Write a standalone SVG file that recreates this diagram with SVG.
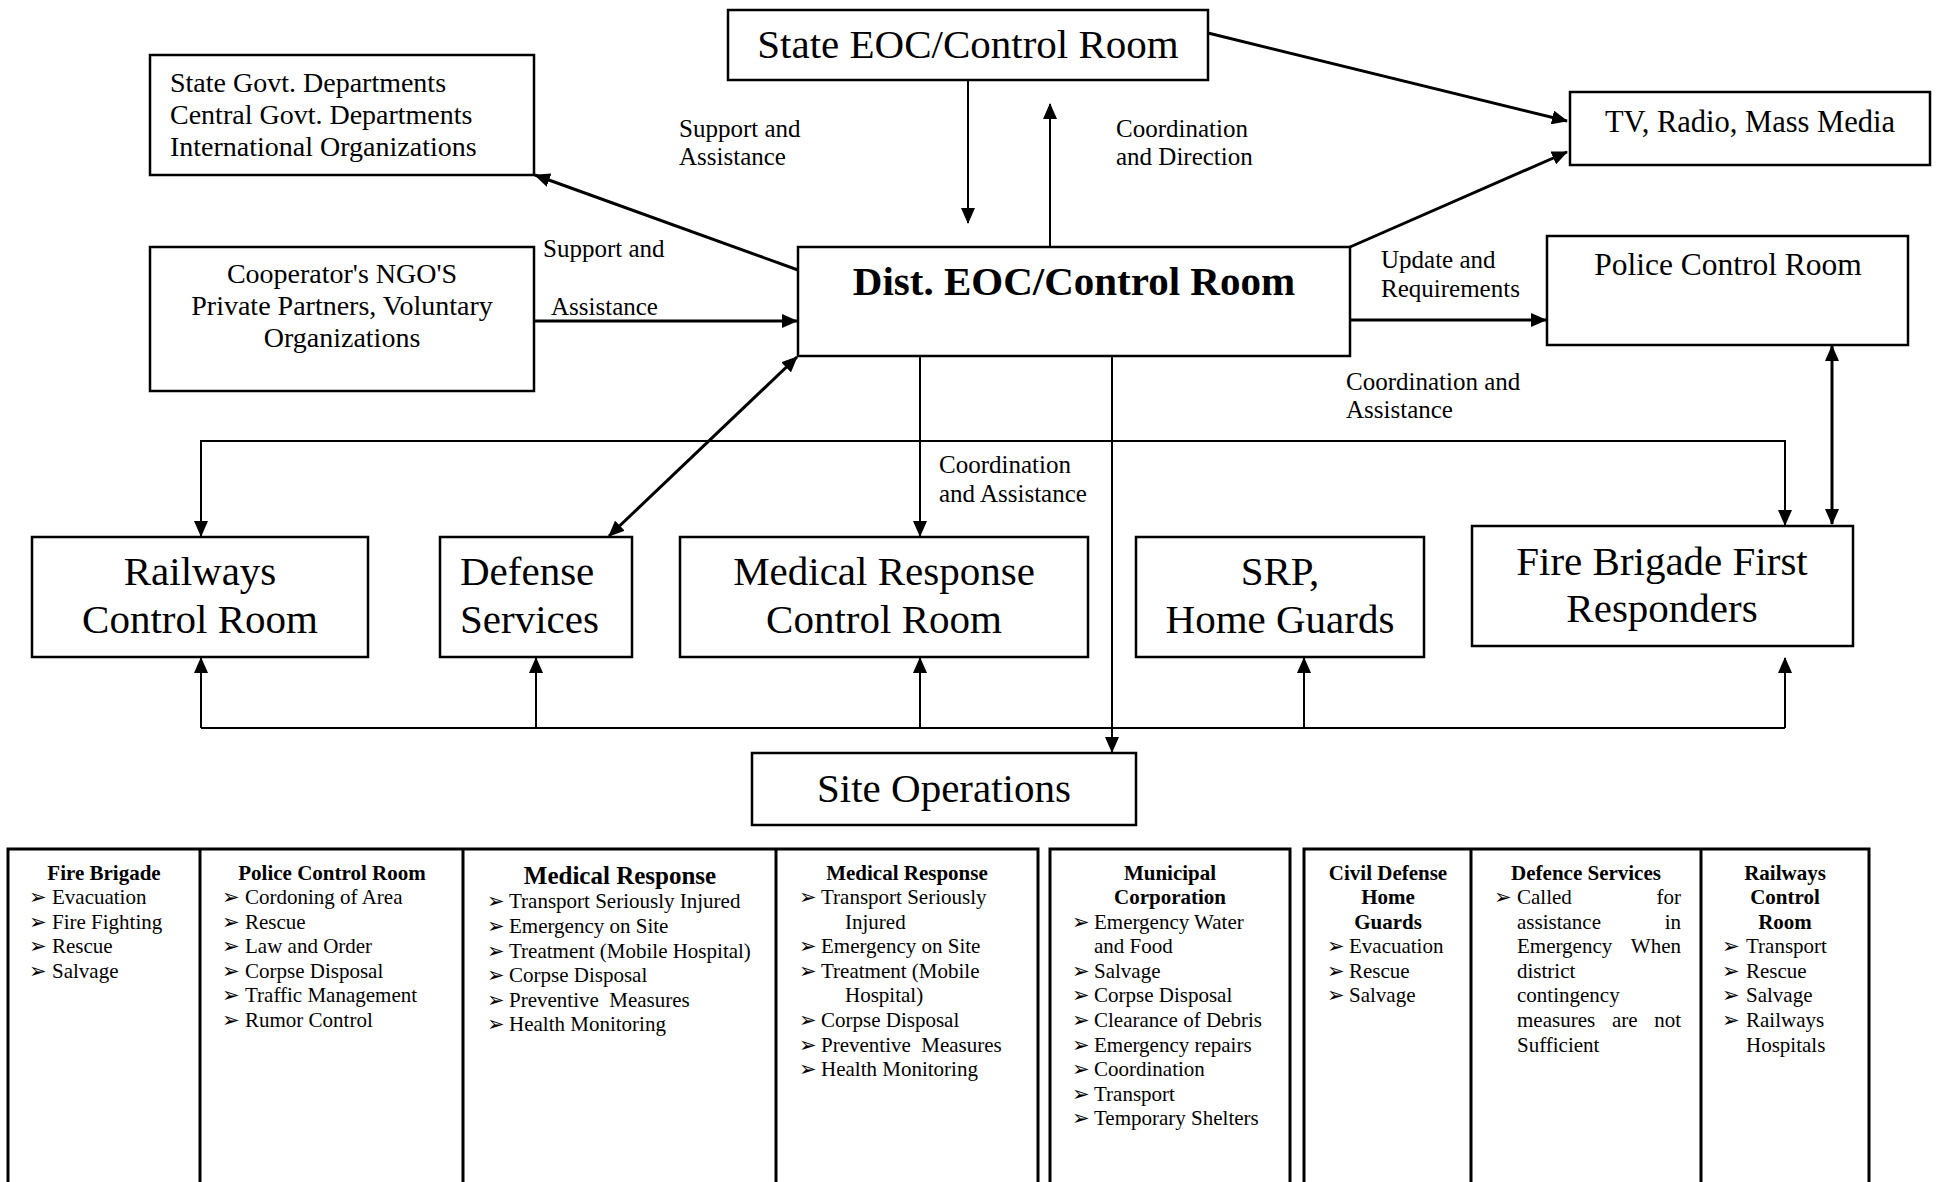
<svg xmlns="http://www.w3.org/2000/svg" width="1938" height="1182" viewBox="0 0 1938 1182">
  <style>
    .box { fill: #fff; stroke: #000; stroke-width: 2.5; }
    .t { font-family: "Liberation Serif", "Times New Roman", serif; fill: #000; }
    .big { font-size: 41px; }
    .mid { font-size: 28px; }
    .lbl { font-size: 25px; }
    .cell { font-size: 21px; }
    .hd { font-size: 21px; font-weight: bold; }
    .c { text-anchor: middle; }
    .e { text-anchor: end; }
    .bul { font-family: "DejaVu Sans", sans-serif; font-size: 21px; fill: #000; }
    .ln { fill: none; stroke: #000; stroke-width: 2; }
    .lnw { fill: none; stroke: #000; stroke-width: 3; }
    .tbl { fill: none; stroke: #000; stroke-width: 3; }
    .pre { white-space: pre; }
  </style>
  <defs>
    <marker id="ah" viewBox="0 0 16 14" refX="15" refY="7" markerWidth="16" markerHeight="14" markerUnits="userSpaceOnUse" orient="auto-start-reverse">
      <path d="M0,0 L16,7 L0,14 z" fill="#000"/>
    </marker>
  </defs>
  <rect width="1938" height="1182" fill="#fff"/>

  <!-- connectors -->
  <g id="connectors">
    <line class="ln" x1="968" y1="81" x2="968" y2="223" marker-end="url(#ah)"/>
    <line class="ln" x1="1050" y1="247" x2="1050" y2="104" marker-end="url(#ah)"/>
    <line class="lnw" x1="1208" y1="33" x2="1567" y2="121" marker-end="url(#ah)"/>
    <line class="lnw" x1="1350" y1="247" x2="1567" y2="152" marker-end="url(#ah)"/>
    <line class="lnw" x1="1350" y1="320" x2="1546" y2="320" marker-end="url(#ah)"/>
    <line class="lnw" x1="798" y1="270" x2="535" y2="175" marker-end="url(#ah)"/>
    <line class="lnw" x1="534" y1="321" x2="797" y2="321" marker-end="url(#ah)"/>
    <line class="lnw" x1="797" y1="357" x2="609" y2="536" marker-start="url(#ah)" marker-end="url(#ah)"/>
    <line class="ln" x1="920" y1="356" x2="920" y2="536" marker-end="url(#ah)"/>
    <line class="ln" x1="1112" y1="356" x2="1112" y2="752" marker-end="url(#ah)"/>
    <path class="ln" d="M201,536 V441 H1785 V525" marker-start="url(#ah)" marker-end="url(#ah)"/>
    <line class="lnw" x1="1832" y1="346" x2="1832" y2="524" marker-start="url(#ah)" marker-end="url(#ah)"/>
    <line class="ln" x1="201" y1="728" x2="1785" y2="728"/>
    <line class="ln" x1="201" y1="728" x2="201" y2="658" marker-end="url(#ah)"/>
    <line class="ln" x1="536" y1="728" x2="536" y2="658" marker-end="url(#ah)"/>
    <line class="ln" x1="920" y1="728" x2="920" y2="658" marker-end="url(#ah)"/>
    <line class="ln" x1="1304" y1="728" x2="1304" y2="658" marker-end="url(#ah)"/>
    <line class="ln" x1="1785" y1="728" x2="1785" y2="658" marker-end="url(#ah)"/>
  </g>

  <!-- connector labels -->
  <g id="labels" class="t lbl">
    <text x="679" y="137">Support and</text>
    <text x="679" y="165">Assistance</text>
    <text x="1116" y="137">Coordination</text>
    <text x="1116" y="165">and Direction</text>
    <text x="543" y="257">Support and</text>
    <text x="551" y="315">Assistance</text>
    <text x="1381" y="268">Update and</text>
    <text x="1381" y="297">Requirements</text>
    <text x="1346" y="390">Coordination and</text>
    <text x="1346" y="418">Assistance</text>
    <text x="939" y="473">Coordination</text>
    <text x="939" y="502">and Assistance</text>
  </g>

  <!-- nodes -->
  <g id="state-eoc">
    <rect class="box" x="728" y="10" width="480" height="70"/>
    <text class="t big c" x="968" y="58">State EOC/Control Room</text>
  </g>
  <g id="govt-depts">
    <rect class="box" x="150" y="55" width="384" height="120"/>
    <text class="t mid" x="170" y="92">State Govt. Departments</text>
    <text class="t mid" x="170" y="124">Central Govt. Departments</text>
    <text class="t mid" x="170" y="156">International Organizations</text>
  </g>
  <g id="ngo">
    <rect class="box" x="150" y="247" width="384" height="144"/>
    <text class="t mid c" x="342" y="283">Cooperator's NGO'S</text>
    <text class="t mid c" x="342" y="315">Private Partners, Voluntary</text>
    <text class="t mid c" x="342" y="347">Organizations</text>
  </g>
  <g id="dist-eoc">
    <rect class="box" x="798" y="247" width="552" height="109"/>
    <text class="t big c" x="1074" y="295" font-weight="bold">Dist. EOC/Control Room</text>
  </g>
  <g id="mass-media">
    <rect class="box" x="1570" y="92" width="360" height="73"/>
    <text class="t c" x="1750" y="132" font-size="30.5">TV, Radio, Mass Media</text>
  </g>
  <g id="police">
    <rect class="box" x="1547" y="236" width="361" height="109"/>
    <text class="t c" x="1728" y="275" font-size="31.5">Police Control Room</text>
  </g>
  <g id="railways">
    <rect class="box" x="32" y="537" width="336" height="120"/>
    <text class="t big c" x="200" y="585">Railways</text>
    <text class="t big c" x="200" y="633">Control Room</text>
  </g>
  <g id="defense">
    <rect class="box" x="440" y="537" width="192" height="120"/>
    <text class="t big" x="460" y="585">Defense</text>
    <text class="t big" x="460" y="633">Services</text>
  </g>
  <g id="medical">
    <rect class="box" x="680" y="537" width="408" height="120"/>
    <text class="t big c" x="884" y="585">Medical Response</text>
    <text class="t big c" x="884" y="633">Control Room</text>
  </g>
  <g id="srp">
    <rect class="box" x="1136" y="537" width="288" height="120"/>
    <text class="t big c" x="1280" y="585">SRP,</text>
    <text class="t big c" x="1280" y="633">Home Guards</text>
  </g>
  <g id="fire">
    <rect class="box" x="1472" y="526" width="381" height="120"/>
    <text class="t big c" x="1662" y="575">Fire Brigade First</text>
    <text class="t big c" x="1662" y="622">Responders</text>
  </g>
  <g id="site-ops">
    <rect class="box" x="752" y="753" width="384" height="72"/>
    <text class="t big c" x="944" y="802">Site Operations</text>
  </g>

  <!-- site operations table -->
  <g id="tasks-table">
    <rect class="tbl" x="8" y="849" width="1030" height="400"/>
    <line class="tbl" x1="200" y1="849" x2="200" y2="1190"/>
    <line class="tbl" x1="463" y1="849" x2="463" y2="1190"/>
    <line class="tbl" x1="776" y1="849" x2="776" y2="1190"/>
    <rect class="tbl" x="1050" y="849" width="240" height="400"/>
    <rect class="tbl" x="1304" y="849" width="565" height="400"/>
    <line class="tbl" x1="1471" y1="849" x2="1471" y2="1190"/>
    <line class="tbl" x1="1701" y1="849" x2="1701" y2="1190"/>
  </g>

  <g id="cell-fire-brigade">
    <text class="t hd c" x="104" y="880">Fire Brigade</text>
    <g class="bul"><text x="29" y="904">➢</text><text x="29" y="929">➢</text><text x="29" y="953">➢</text><text x="29" y="978">➢</text></g>
    <g class="t cell">
      <text x="52" y="904">Evacuation</text>
      <text x="52" y="929">Fire Fighting</text>
      <text x="52" y="953">Rescue</text>
      <text x="52" y="978">Salvage</text>
    </g>
  </g>

  <g id="cell-police">
    <text class="t hd c" x="332" y="880">Police Control Room</text>
    <g class="bul"><text x="222" y="904">➢</text><text x="222" y="929">➢</text><text x="222" y="953">➢</text><text x="222" y="978">➢</text><text x="222" y="1002">➢</text><text x="222" y="1027">➢</text></g>
    <g class="t cell">
      <text x="245" y="904">Cordoning of Area</text>
      <text x="245" y="929">Rescue</text>
      <text x="245" y="953">Law and Order</text>
      <text x="245" y="978">Corpse Disposal</text>
      <text x="245" y="1002">Traffic Management</text>
      <text x="245" y="1027">Rumor Control</text>
    </g>
  </g>

  <g id="cell-medical-1">
    <text class="t c" x="620" y="884" font-size="25" font-weight="bold">Medical Response</text>
    <g class="bul"><text x="487" y="908">➢</text><text x="487" y="933">➢</text><text x="487" y="958">➢</text><text x="487" y="982">➢</text><text x="487" y="1007">➢</text><text x="487" y="1031">➢</text></g>
    <g class="t cell">
      <text x="509" y="908">Transport Seriously Injured</text>
      <text x="509" y="933">Emergency on Site</text>
      <text x="509" y="958">Treatment (Mobile Hospital)</text>
      <text x="509" y="982">Corpse Disposal</text>
      <text x="509" y="1007" class="pre">Preventive  Measures</text>
      <text x="509" y="1031">Health Monitoring</text>
    </g>
  </g>

  <g id="cell-medical-2">
    <text class="t hd c" x="907" y="880">Medical Response</text>
    <g class="bul"><text x="799" y="904">➢</text><text x="799" y="953">➢</text><text x="799" y="978">➢</text><text x="799" y="1027">➢</text><text x="799" y="1052">➢</text><text x="799" y="1076">➢</text></g>
    <g class="t cell">
      <text x="821" y="904">Transport Seriously</text>
      <text x="845" y="929">Injured</text>
      <text x="821" y="953">Emergency on Site</text>
      <text x="821" y="978">Treatment (Mobile</text>
      <text x="845" y="1002">Hospital)</text>
      <text x="821" y="1027">Corpse Disposal</text>
      <text x="821" y="1052" class="pre">Preventive  Measures</text>
      <text x="821" y="1076">Health Monitoring</text>
    </g>
  </g>

  <g id="cell-municipal">
    <text class="t hd c" x="1170" y="880">Municipal</text>
    <text class="t hd c" x="1170" y="904">Corporation</text>
    <g class="bul"><text x="1072" y="929">➢</text><text x="1072" y="978">➢</text><text x="1072" y="1002">➢</text><text x="1072" y="1027">➢</text><text x="1072" y="1052">➢</text><text x="1072" y="1076">➢</text><text x="1072" y="1101">➢</text><text x="1072" y="1125">➢</text></g>
    <g class="t cell">
      <text x="1094" y="929">Emergency Water</text>
      <text x="1094" y="953">and Food</text>
      <text x="1094" y="978">Salvage</text>
      <text x="1094" y="1002">Corpse Disposal</text>
      <text x="1094" y="1027">Clearance of Debris</text>
      <text x="1094" y="1052">Emergency repairs</text>
      <text x="1094" y="1076">Coordination</text>
      <text x="1094" y="1101">Transport</text>
      <text x="1094" y="1125">Temporary Shelters</text>
    </g>
  </g>

  <g id="cell-civil-defense">
    <text class="t hd c" x="1388" y="880">Civil Defense</text>
    <text class="t hd c" x="1388" y="904">Home</text>
    <text class="t hd c" x="1388" y="929">Guards</text>
    <g class="bul"><text x="1327" y="953">➢</text><text x="1327" y="978">➢</text><text x="1327" y="1002">➢</text></g>
    <g class="t cell">
      <text x="1349" y="953">Evacuation</text>
      <text x="1349" y="978">Rescue</text>
      <text x="1349" y="1002">Salvage</text>
    </g>
  </g>

  <g id="cell-defence-services">
    <text class="t hd c" x="1586" y="880">Defence Services</text>
    <g class="bul"><text x="1494" y="904">➢</text></g>
    <g class="t cell">
      <text x="1517" y="904">Called</text><text class="e" x="1681" y="904">for</text>
      <text x="1517" y="929">assistance</text><text class="e" x="1681" y="929">in</text>
      <text x="1517" y="953">Emergency</text><text class="e" x="1681" y="953">When</text>
      <text x="1517" y="978">district</text>
      <text x="1517" y="1002">contingency</text>
      <text x="1517" y="1027">measures</text><text x="1612" y="1027">are</text><text class="e" x="1681" y="1027">not</text>
      <text x="1517" y="1052">Sufficient</text>
    </g>
  </g>

  <g id="cell-railways">
    <text class="t hd c" x="1785" y="880">Railways</text>
    <text class="t hd c" x="1785" y="904">Control</text>
    <text class="t hd c" x="1785" y="929">Room</text>
    <g class="bul"><text x="1722" y="953">➢</text><text x="1722" y="978">➢</text><text x="1722" y="1002">➢</text><text x="1722" y="1027">➢</text></g>
    <g class="t cell">
      <text x="1746" y="953">Transport</text>
      <text x="1746" y="978">Rescue</text>
      <text x="1746" y="1002">Salvage</text>
      <text x="1746" y="1027">Railways</text>
      <text x="1746" y="1052">Hospitals</text>
    </g>
  </g>
</svg>
